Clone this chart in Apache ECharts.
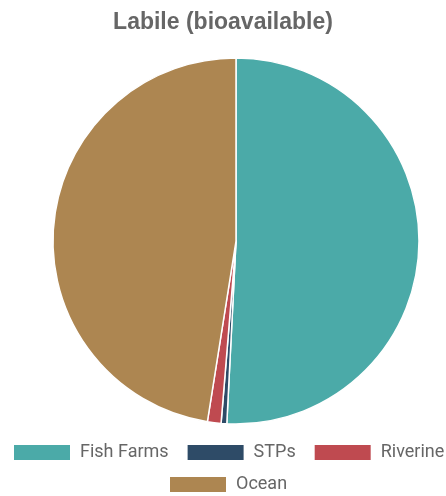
<!DOCTYPE html>
<html>
<head>
<meta charset="utf-8">
<script src="https://cdn.jsdelivr.net/npm/echarts@6/dist/echarts.min.js"></script>
<style>
  html, body { margin: 0; padding: 0; background: #ffffff; }
  #chart { width: 446px; height: 496px; }
</style>
</head>
<body>
<div id="chart"></div>
<script>
// Labile (bioavailable) nutrient sources, share of total
const categories = ['Fish Farms', 'STPs', 'Riverine', 'Ocean'];
const shares = [50.8, 0.5, 1.2, 47.5];
const colors = ['#4baaa8', '#2e4b67', '#bf4a50', '#ad8651'];

// Legend is split over two rows
const legendRows = [categories.slice(0, 3), categories.slice(3)];
const legendTops = [443, 475];
const legendLefts = [12, 168];

const chart = echarts.init(document.getElementById('chart'), null, { renderer: 'canvas' });

const legendBase = {
  orient: 'horizontal',
  padding: 0,
  itemWidth: 58,
  itemHeight: 17,
  itemGap: 17,
  icon: 'rect',
  textStyle: {
    fontFamily: 'Roboto, sans-serif',
    fontSize: 18,
    color: '#666666',
    padding: [0, 0, 0, 4]
  }
};

chart.setOption({
  animation: false,
  color: colors,
  title: {
    text: 'Labile (bioavailable)',
    left: 'center',
    top: 6,
    textStyle: {
      fontFamily: "'Liberation Sans', Arial, sans-serif",
      fontWeight: 'bold',
      fontSize: 23,
      color: '#666666'
    }
  },
  legend: legendRows.map((row, i) => Object.assign({}, legendBase, {
    data: row, top: legendTops[i], left: legendLefts[i]
  })),
  series: [{
    type: 'pie',
    center: [236, 241],
    radius: [0, 183],
    startAngle: 90,
    clockwise: true,
    label: { show: false },
    labelLine: { show: false },
    itemStyle: { borderColor: '#ffffff', borderWidth: 1.5 },
    emphasis: { disabled: true },
    data: categories.map((name, i) => ({ name: name, value: shares[i] }))
  }]
});
</script>
</body>
</html>
